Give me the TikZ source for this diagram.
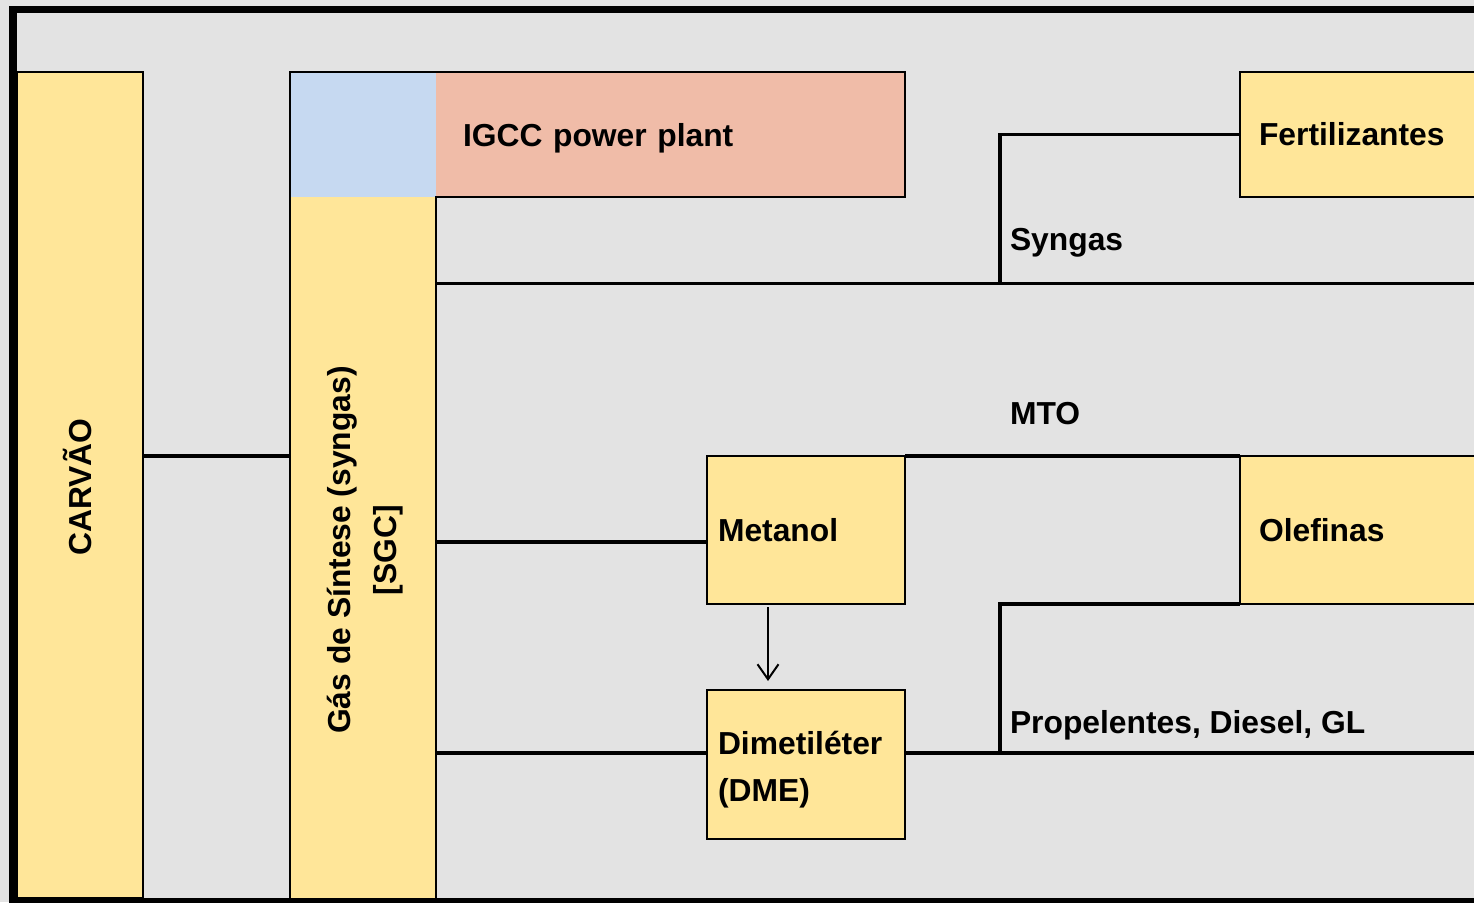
\documentclass[tikz,border=0pt]{standalone}
\usepackage{fontspec}
\setmainfont{Liberation Sans}
\usetikzlibrary{arrows.meta,calc}
\definecolor{bg}{HTML}{E3E3E3}
\definecolor{boxyellow}{HTML}{FFE699}
\definecolor{boxblue}{HTML}{C6D9F1}
\definecolor{boxsalmon}{HTML}{F0BCA8}
\begin{document}
\begin{tikzpicture}[x=1pt,y=-1pt,
  every node/.style={font=\fontsize{31.8}{46.5}\selectfont\bfseries, inner sep=0pt, outer sep=0pt},
  boxline/.style={draw=black, line width=2.2pt},
  conn/.style={draw=black, line width=3.6pt},
  ybox/.style={fill=boxyellow, boxline, anchor=north west, align=left},
  filledbox/.style={anchor=north west, align=left},
  arrowline/.style={draw=black, line width=2pt, -{Straight Barb[length=15pt,width=21pt]}},
]
\useasboundingbox (0,0) rectangle (1474,902);
\fill[bg] (0,0) rectangle (1474,902);

% boxes
\node[ybox, minimum width=126pt, minimum height=826pt] (carvao) at (17,72) {};
\node[filledbox, fill=boxyellow, minimum width=146pt, minimum height=701pt] (sgc) at (290,197) {};
\node[filledbox, fill=boxblue, minimum width=146pt, minimum height=125pt] (blue) at (290,72) {};
\node[filledbox, fill=boxsalmon, minimum height=125pt, inner xsep=27pt, text width=415pt, text depth=0pt] (igcc) at (436,72) {IGCC power plant};
\draw[boxline] (sgc.south west) -- (blue.north west) -- (igcc.north east) -- (igcc.south east) -- (igcc.south west) -- (sgc.south east);

\node[ybox, minimum height=125pt, inner xsep=19pt, text width=262pt] (fert) at (1240,72) {Fertilizantes};
\node[ybox, minimum height=148pt, inner xsep=11pt, text width=176pt] (metanol) at (707,456) {Metanol};
\node[ybox, minimum height=148pt, inner xsep=19pt, text width=262pt] (olef) at (1240,456) {Olefinas};
\node[ybox, minimum height=149pt, inner xsep=11pt, text width=176pt, text depth=43pt] (dme) at (707,690) {Dimetiléter\\(DME)};

% rotated texts
\node[rotate=90, anchor=base] (carvaoT) at (91.5,487) {CARVÃO};
\node[rotate=90, align=center] (sgcT) at (365,550) {Gás de Síntese (syngas)\\{}[SGC]};

% coordinates
\coordinate (synJ) at (1000,283.5);
\coordinate (synR) at (1490,283.5);
\coordinate (metJ) at ($(metanol.north west)+(0,86)$);
\coordinate (dmeJ) at ($(dme.north west)+(0,63)$);
\coordinate (propJ) at (1000,753);
\coordinate (propR) at (1490,753);

% connectors
\draw[conn] (carvao.east |- metanol.north) -- (sgc.west |- metanol.north);
\draw[conn] (sgc.east |- synR) -- (synR);
\draw[conn] (synJ) |- (fert.west);
\draw[conn] (sgc.east |- metJ) -- (metJ);
\draw[conn] (sgc.east |- dmeJ) -- (dmeJ);
\draw[conn] (metanol.north east) -- (olef.north west);
\draw[conn] (dme.east |- propR) -- (propR);
\draw[conn] (propJ) |- (olef.south west);
\draw[arrowline] ($(metanol.south west)+(61,3)$) -- ($(dme.north west)+(61,-9)$);

% labels
\node[anchor=base west] (syngasL) at (1010,250.5) {Syngas};
\node[anchor=base west] (mtoL) at (1010,424) {MTO};
\node[anchor=base west] (propL) at (1010,733) {Propelentes, Diesel, GL};

% frame
\draw[line width=7.6pt] (13,9.5) rectangle (1495,901.5);
\end{tikzpicture}
\end{document}
